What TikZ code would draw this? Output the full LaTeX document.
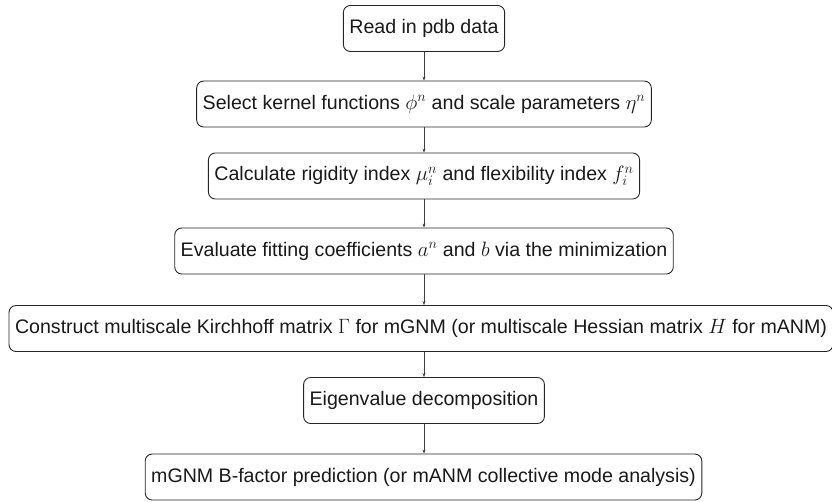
\documentclass[tikz,border=0pt]{standalone}
\usepackage{fontspec}
\setmainfont{Liberation Sans}
\usetikzlibrary{arrows.meta}
\begin{document}
\begin{tikzpicture}[x=1pt,y=-1pt,
  stepbox/.style={draw=black!85, line width=0.9pt, rounded corners=7pt, minimum height=46pt,
    inner xsep=6pt, font=\fontsize{19.6pt}{23pt}\selectfont, text=black!90},
  link/.style={draw=black!75, line width=0.5pt, -{Stealth[length=4pt,width=3pt]}}]
\useasboundingbox (0,0) rectangle (832,501);
\node[stepbox] (n1) at (424,28.5) {Read in pdb data};
\node[stepbox] (n2) at (424,104) {Select kernel functions $\phi^n$ and scale parameters $\eta^n$};
\node[stepbox] (n3) at (424,176) {Calculate rigidity index $\mu_i^n$ and flexibility index $f_i^n$};
\node[stepbox] (n4) at (424,251) {Evaluate fitting coefficients $a^n$ and $b$ via the minimization};
\node[stepbox] (n5) at (421,328.5) {Construct multiscale Kirchhoff matrix $\Gamma$ for mGNM (or multiscale Hessian matrix $H$ for mANM)};
\node[stepbox] (n6) at (424,400.5) {Eigenvalue decomposition};
\node[stepbox] (n7) at (423.5,477) {mGNM B-factor prediction (or mANM collective mode analysis)};
\draw[link] (n1.south -| 424,0) -- (n2.north -| 424,0);
\draw[link] (n2.south -| 424,0) -- (n3.north -| 424,0);
\draw[link] (n3.south -| 424,0) -- (n4.north -| 424,0);
\draw[link] (n4.south -| 424,0) -- (n5.north -| 424,0);
\draw[link] (n5.south -| 424,0) -- (n6.north -| 424,0);
\draw[link] (n6.south -| 424,0) -- (n7.north -| 424,0);
\end{tikzpicture}
\end{document}
